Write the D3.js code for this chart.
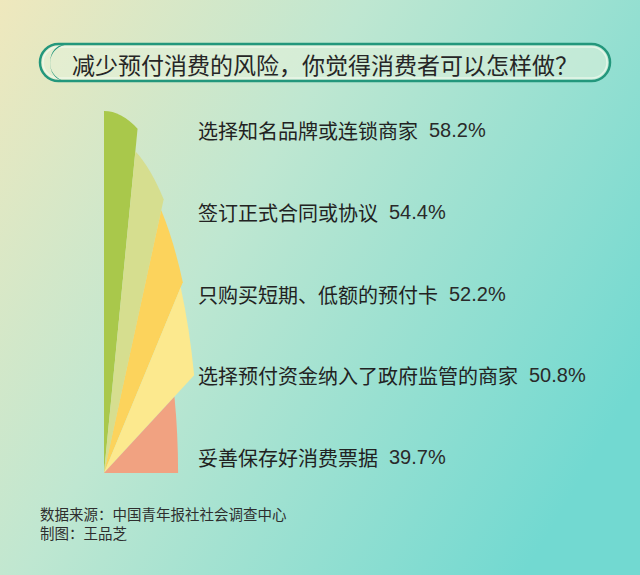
<!DOCTYPE html>
<html>
<head>
<meta charset="utf-8">
<script src="https://cdn.jsdelivr.net/npm/d3@7/dist/d3.min.js"></script>
<style>
  html, body { margin: 0; padding: 0; }
  body { width: 640px; height: 575px; overflow: hidden; }
</style>
</head>
<body>
<svg id="chart" width="640" height="575"></svg>
<script>
// ---- data ----
const categories = [
  "选择知名品牌或连锁商家",
  "签订正式合同或协议",
  "只购买短期、低额的预付卡",
  "选择预付资金纳入了政府监管的商家",
  "妥善保存好消费票据"
];
const values = [58.2, 54.4, 52.2, 50.8, 39.7];
const valueLabels = ["58.2%", "54.4%", "52.2%", "50.8%", "39.7%"];
const colors = ["#a9c84b", "#d6de8f", "#fcd35c", "#fce98e", "#f1a281"];
const title = "减少预付消费的风险，你觉得消费者可以怎样做？";
const sourceLines = ["数据来源：中国青年报社社会调查中心", "制图：王品芝"];

// ---- drawing ----
const svg = d3.select("#chart");
const W = 640, H = 575;

const defs = svg.append("defs");
const bg = defs.append("linearGradient").attr("id", "bg")
  .attr("gradientUnits", "userSpaceOnUse")
  .attr("x1", 0).attr("y1", 0).attr("x2", 640).attr("y2", 380);
bg.append("stop").attr("offset", 0).attr("stop-color", "#efe8bd");
bg.append("stop").attr("offset", 0.42).attr("stop-color", "#bfe7d1");
bg.append("stop").attr("offset", 1).attr("stop-color", "#72d9d1");
svg.append("rect").attr("width", W).attr("height", H).attr("fill", "url(#bg)");

// title box
const tb = { x: 40, y: 44, w: 570, h: 37, r: 18.5 };
svg.append("rect")
  .attr("x", tb.x).attr("y", tb.y).attr("width", tb.w).attr("height", tb.h)
  .attr("rx", tb.r).attr("ry", tb.r)
  .attr("fill", "#e6f3dd").attr("fill-opacity", 0.55)
  .attr("stroke", "#23977c").attr("stroke-width", 2.5);
svg.append("rect")
  .attr("x", tb.x + 3).attr("y", tb.y + 3).attr("width", tb.w - 6).attr("height", tb.h - 6)
  .attr("rx", tb.r - 3).attr("ry", tb.r - 3)
  .attr("fill", "none").attr("stroke", "#f4fbef").attr("stroke-opacity", 0.7).attr("stroke-width", 1.5);
// thick left crescent
svg.append("path")
  .attr("d", `M${tb.x + tb.r + 6},${tb.y + 1} A${tb.r},${tb.r} 0 0 0 ${tb.x + tb.r + 4},${tb.y + tb.h - 0.5}
              A${tb.r - 6},${tb.r - 2} 0 0 1 ${tb.x + tb.r + 6},${tb.y + 1} Z`)
  .attr("fill", "#23977c");
svg.append("text")
  .attr("x", 72).attr("y", tb.y + tb.h / 2 + 1)
  .attr("dominant-baseline", "central")
  .attr("font-family", "'Noto Sans CJK SC', sans-serif")
  .attr("font-size", 23).attr("font-weight", 400)
  .attr("fill", "#262626")
  .text(title);

// fan of wedges (squeezed pie)
const apex = { x: 104, y: 473 };
const squeeze = 0.3;
const angle = d3.scaleLinear().domain([0, categories.length]).range([0, Math.PI / 2]);
const radius = d3.scaleLinear().domain([0, 58.2]).range([0, 362]);
const arc = d3.arc().innerRadius(0);

const fan = svg.append("g")
  .attr("transform", `translate(${apex.x},${apex.y}) scale(${squeeze},1)`);
fan.selectAll("path")
  .data(values)
  .join("path")
  .attr("d", (d, i) => arc({
    outerRadius: radius(d),
    startAngle: angle(i),
    endAngle: angle(i + 1)
  }))
  .attr("fill", (d, i) => colors[i]);

// labels
const yLab = d3.scalePoint().domain(categories).range([130, 457]);
const labels = svg.append("g");
const t = labels.selectAll("text")
  .data(categories)
  .join("text")
  .attr("x", 198)
  .attr("y", d => yLab(d))
  .attr("dominant-baseline", "central")
  .attr("fill", "#222");
t.append("tspan")
  .attr("font-family", "'Noto Sans CJK SC', sans-serif")
  .attr("font-size", 20)
  .text(d => d);
t.append("tspan")
  .attr("dx", 11)
  .attr("font-family", "'Liberation Sans', Arial, sans-serif")
  .attr("font-size", 20)
  .attr("fill", "#2a2a2a")
  .text((d, i) => valueLabels[i]);

// source
svg.append("g").selectAll("text")
  .data(sourceLines)
  .join("text")
  .attr("x", 40)
  .attr("y", (d, i) => 513 + i * 19)
  .attr("dominant-baseline", "central")
  .attr("font-family", "'Noto Sans CJK SC', sans-serif")
  .attr("font-size", 14.5)
  .attr("fill", "#2e2e2e")
  .text(d => d);
</script>
</body>
</html>
